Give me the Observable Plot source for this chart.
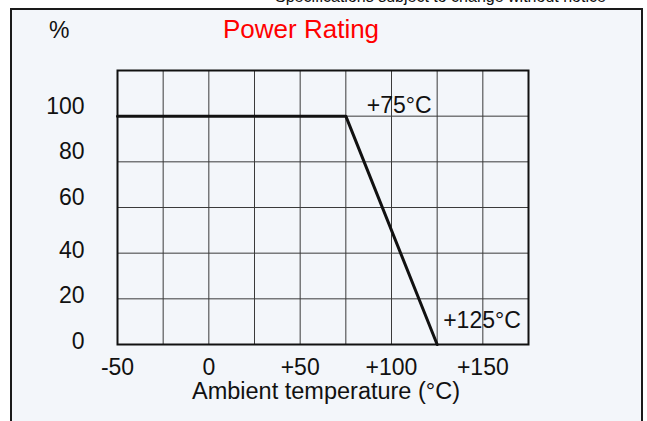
<!DOCTYPE html>
<html>
<head>
<meta charset="utf-8">
<script src="https://cdn.jsdelivr.net/npm/d3@7"></script>
<script src="https://cdn.jsdelivr.net/npm/@observablehq/plot@0.6"></script>
<style>
  html, body { margin: 0; padding: 0; background: #fff; overflow: hidden; }
  body { width: 647px; height: 421px; position: relative; font-family: "Liberation Sans", Arial, sans-serif; }
  #box { position: absolute; left: 10px; top: 8px; width: 633px; height: 430px; border: 2px solid #1a1a1a; background: #f3f6fa; box-sizing: border-box; }
  #chart { position: absolute; left: 0; top: 0; }
  .t { position: absolute; white-space: nowrap; line-height: 1; }
</style>
</head>
<body>
<div id="box"></div>
<div class="t" style="left:275px; top:-11px; font-size:16px; color:#111;">Specifications subject to change without notice</div>
<div class="t" style="left:49px; top:19px; font-size:23px; color:#111;">%</div>
<div class="t" style="left:223px; top:16px; font-size:26px; color:#ff0000;">Power Rating</div>
<div id="chart"></div>
<script>
// Data
const temps = [-50, 75, 125];          // °C
const power = [100, 100, 0];           // % rated power
const xTicks = [-50, 0, 50, 100, 150];
const yTicksLow = [0, 20, 40];
const yTicksHigh = [60, 80, 100];
const xGrid = [-50, -25, 0, 25, 50, 75, 100, 125, 150, 175];
const yGrid = [0, 20, 40, 60, 80, 100, 120];
const kneeLabel = "+75°C";
const endLabel = "+125°C";
const xLabel = "Ambient temperature (°C)";

const curve = temps.map((t, i) => ({t, p: power[i]}));
const knee = [{t: temps[1], p: power[1], text: kneeLabel}];
const end = [{t: temps[2], p: power[2], text: endLabel}];

const font = "'Liberation Sans', Arial, sans-serif";
const plot = Plot.plot({
  width: 647,
  height: 421,
  marginLeft: 117,
  marginRight: 119,
  marginTop: 70,
  marginBottom: 77,
  style: {background: "transparent", fontFamily: font, fontSize: "23px", color: "#111", overflow: "visible"},
  x: {domain: [-50, 175]},
  y: {domain: [0, 120]},
  marks: [
    Plot.ruleX(xGrid, {stroke: "#3a3a3a", strokeWidth: 1}),
    Plot.ruleY(yGrid, {stroke: "#3a3a3a", strokeWidth: 1}),
    Plot.frame({stroke: "#111", strokeWidth: 2}),
    Plot.line(curve, {x: "t", y: "p", stroke: "#111", strokeWidth: 3}),
    Plot.text(knee, {x: "t", y: "p", text: "text", textAnchor: "start", lineAnchor: "bottom", dx: 21, dy: -3, fontSize: 23, fill: "#111"}),
    Plot.text(end, {x: "t", y: "p", text: "text", textAnchor: "start", lineAnchor: "bottom", dx: 6, dy: -17, fontSize: 23, fill: "#111"}),
    Plot.axisX(xTicks, {tickSize: 0, tickPadding: 14, fontSize: 23, tickFormat: d => d > 0 ? "+" + d : String(d), label: null}),
    Plot.axisY(yTicksLow, {tickSize: 0, tickPadding: 33, fontSize: 23, dy: -3, label: null}),
    Plot.axisY(yTicksHigh, {tickSize: 0, tickPadding: 33, fontSize: 23, dy: -10, label: null}),
    Plot.text([xLabel], {frameAnchor: "bottom", lineAnchor: "bottom", dx: 3, dy: 54, fontSize: 23.5, fill: "#111"})
  ]
});
document.getElementById("chart").appendChild(plot);
</script>
</body>
</html>
